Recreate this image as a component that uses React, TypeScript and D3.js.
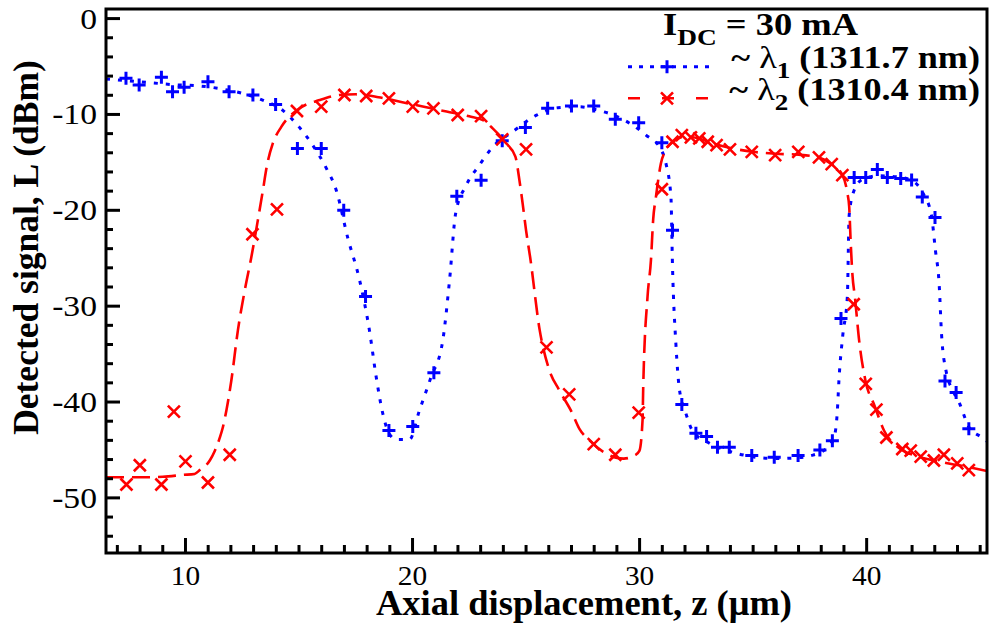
import React from "react";
import * as d3 from "d3";

// ---- data ----
const blueMarkZ = [7.38, 7.96, 8.94, 9.43, 9.94, 10.99, 11.92, 12.97, 13.97, 14.93, 15.98, 16.97, 17.93, 18.96, 20.01, 20.94, 21.95, 23.02, 23.95, 24.97, 25.95, 27.0, 27.98, 28.93, 29.96, 30.98, 31.45, 31.86, 32.48, 32.95, 33.43, 33.95, 34.94, 35.93, 36.98, 37.94, 38.49, 38.87, 39.45, 39.96, 40.47, 40.91, 41.5, 41.98, 42.45, 43.01, 43.45, 43.94, 44.5];
const blueMarkL = [-6.23, -6.93, -6.13, -7.63, -7.17, -6.58, -7.63, -7.97, -8.95, -13.55, -13.55, -20.0, -28.98, -42.98, -42.56, -36.95, -18.53, -16.86, -12.75, -11.35, -9.36, -9.12, -9.12, -10.51, -10.86, -12.96, -22.08, -40.26, -43.26, -43.6, -44.72, -44.72, -45.59, -45.77, -45.59, -45.0, -44.03, -31.3, -16.57, -16.57, -15.74, -16.57, -16.68, -16.85, -18.6, -20.75, -37.8, -39.0, -42.8];

const redMarkZ = [7.4, 7.99, 8.94, 9.49, 10.0, 10.99, 11.95, 12.95, 14.03, 14.91, 15.98, 17.0, 17.96, 18.96, 20.01, 20.92, 21.99, 23.02, 23.95, 25.0, 25.9, 26.9, 27.98, 28.93, 29.96, 30.98, 31.45, 31.86, 32.26, 32.63, 33.0, 33.39, 33.98, 34.94, 35.97, 36.99, 37.9, 38.46, 38.93, 39.43, 39.96, 40.43, 40.87, 41.57, 41.94, 42.38, 42.96, 43.4, 43.99, 44.5];
const redMarkL = [-48.6, -46.6, -48.6, -41.0, -46.2, -48.4, -45.5, -22.5, -19.9, -9.64, -9.19, -7.97, -8.08, -8.32, -9.19, -9.36, -10.06, -10.17, -12.6, -13.65, -34.3, -39.2, -44.4, -45.5, -41.1, -17.8, -12.85, -12.15, -12.4, -12.5, -12.85, -13.2, -13.65, -13.9, -14.24, -13.9, -14.48, -15.18, -16.33, -29.8, -38.1, -40.8, -43.7, -44.9, -45.07, -45.7, -46.1, -45.5, -46.4, -47.1];

const blueFitZ = [6.5, 7.5, 8.5, 9.5, 10.5, 11.5, 12.5, 13.5, 14.3, 15.0, 15.6, 16.2, 16.64, 17.15, 17.67, 18.1, 18.4, 18.69, 18.95, 19.28, 19.87, 20.3, 20.8, 21.33, 21.63, 21.9, 22.36, 22.94, 23.53, 24.41, 25.44, 26.4, 27.35, 28.08, 29.33, 30.28, 30.9, 31.16, 31.38, 31.45, 31.6, 31.75, 32.04, 32.33, 33.0, 33.9, 34.96, 36.0, 37.0, 37.54, 38.2, 38.56, 38.71, 38.78, 38.95, 39.15, 39.23, 39.45, 39.8, 40.5, 41.3, 42.0, 42.5, 42.85, 43.03, 43.19, 43.3, 43.5, 43.8, 44.1, 44.5, 45.08, 45.3];
const blueFitL = [-6.3, -6.5, -6.7, -6.9, -7.0, -7.3, -7.8, -8.6, -9.6, -11.3, -13.2, -15.6, -17.9, -22.9, -27.3, -32.5, -37.4, -41.2, -43.2, -43.9, -43.9, -40.9, -37.5, -33.6, -27.3, -20.3, -17.4, -15.3, -13.4, -11.8, -10.1, -9.3, -9.2, -9.5, -10.6, -12.15, -13.5, -15.1, -18.6, -25.9, -34, -38.6, -41.2, -43, -44.2, -45.1, -45.7, -45.9, -45.8, -45.6, -44.9, -43.7, -40.9, -37.7, -33, -29, -20.5, -17.9, -16.8, -16.4, -16.5, -16.9, -18.3, -20.5, -24.2, -27.6, -33, -36.8, -38.8, -40.2, -42.6, -43.7, -44.1];

const redFitZ = [6.5, 8, 9, 9.9, 10.4, 10.63, 11.07, 11.29, 11.5, 11.65, 11.8, 12.02, 12.31, 12.61, 12.9, 13.19, 13.39, 13.6, 13.85, 14.22, 15.03, 15.91, 16.79, 17.5, 18.5, 19.5, 20.5, 21.5, 22.5, 23.1, 23.53, 24.12, 24.53, 24.71, 24.85, 25.0, 25.18, 25.6, 26.0, 26.47, 27.0, 27.35, 27.79, 28.4, 28.96, 29.3, 29.77, 29.99, 30.13, 30.16, 30.35, 30.5, 30.6, 30.72, 30.94, 31.16, 31.5, 32.0, 32.6, 33.2, 34.0, 35.0, 36.0, 37.0, 37.9, 38.46, 38.93, 39.15, 39.23, 39.3, 39.37, 39.49, 39.67, 39.95, 40.35, 40.77, 41.43, 42.3, 43.4, 44.5, 45.3];
const redFitL = [-47.85, -47.85, -47.8, -47.6, -47.5, -47.1, -46.1, -45.1, -43.8, -42.6, -40.9, -37.75, -32.5, -28.35, -24.9, -21.0, -18.2, -15.2, -13.0, -11.3, -9.36, -8.5, -7.97, -7.9, -8.2, -8.7, -9.2, -9.7, -10.2, -10.6, -11.45, -13.0, -14.4, -16.9, -19.3, -22.1, -24.9, -32.5, -36.5, -38.8, -41.0, -42.8, -44.0, -45.2, -45.8, -45.9, -45.6, -45.1, -41.9, -38.4, -29.0, -25.2, -20.9, -18.6, -15.1, -13.7, -12.8, -12.3, -12.5, -13.0, -13.5, -13.9, -14.1, -14.2, -14.5, -15.2, -16.3, -18.2, -19.6, -23.5, -26.6, -29.2, -33.6, -37.8, -40.4, -43.0, -44.8, -45.7, -46.3, -46.8, -47.2];

const xMajorTicks = [10, 20, 30, 40];
const yMajorTicks = [0, -10, -20, -30, -40, -50];
const xLabel = "Axial displacement, z (\u03bcm)";
const yLabel = "Detected signal, L (dBm)";
const legendTitle = { main: "I", sub: "DC", rest: " = 30 mA" };
const series = [
  { name: "\u03bb", sub: "1", rest: " (1311.7 nm)" },
  { name: "\u03bb", sub: "2", rest: " (1310.4 nm)" },
];

const W = 989, H = 628;
const left = 106, right = 987, top = 9, bottom = 553;
const FONT = "'Liberation Serif', Tinos, 'Nimbus Roman', 'DejaVu Serif', serif";
const BLUE = "#0000ff", RED = "#ff0000";
const tStyle = { fontFamily: FONT };

export default function App() {
  const x = d3.scaleLinear().domain([6.5, 45.3]).range([left, right]);
  const y = d3.scaleLinear().domain([-55.75, 1.0]).range([bottom, top]);

  const line = d3
    .line<[number, number]>()
    .x((d) => x(d[0]))
    .y((d) => y(d[1]))
    .curve(d3.curveMonotoneX);

  const bluePts: [number, number][] = blueFitZ.map((z, i) => [z, blueFitL[i]]);
  const redPts: [number, number][] = redFitZ.map((z, i) => [z, redFitL[i]]);

  const xMinor = d3.range(7, 46, 1).filter((v) => v % 10 !== 0);
  const yMinor = d3.range(-54, 1, 2).filter((v) => v % 10 !== 0);

  const plus = (cx: number, cy: number, k: string) => (
    <path key={k} d={`M${cx - 6.5},${cy}H${cx + 6.5}M${cx},${cy - 6.5}V${cy + 6.5}`} stroke={BLUE} strokeWidth={3} fill="none" />
  );
  const cross = (cx: number, cy: number, k: string) => (
    <path key={k} d={`M${cx - 6},${cy - 6}L${cx + 6},${cy + 6}M${cx - 6},${cy + 6}L${cx + 6},${cy - 6}`} stroke={RED} strokeWidth={2.6} fill="none" />
  );

  return (
    <svg width={W} height={H} style={{ position: "absolute", left: 0, top: 0, background: "#fff" }}>
      <defs>
        <clipPath id="plotclip">
          <rect x={left} y={top} width={right - left} height={bottom - top} />
        </clipPath>
      </defs>
      <g clipPath="url(#plotclip)">
        <path d={line(bluePts) || ""} fill="none" stroke={BLUE} strokeWidth={3} strokeDasharray="4,8" />
        {blueMarkZ.map((z, i) => plus(x(z), y(blueMarkL[i]), "b" + i))}
        <path d={line(redPts) || ""} fill="none" stroke={RED} strokeWidth={2.6} strokeDasharray="18,8" />
        {redMarkZ.map((z, i) => cross(x(z), y(redMarkL[i]), "r" + i))}
      </g>

      {/* frame */}
      <rect x={left} y={top} width={right - left} height={bottom - top} fill="none" stroke="#000" strokeWidth={3} />

      {/* x ticks */}
      {xMajorTicks.map((t) => (
        <g key={"xt" + t}>
          <line x1={x(t)} x2={x(t)} y1={bottom} y2={bottom - 15} stroke="#000" strokeWidth={3} />
          <text transform={`translate(${x(t)},585) scale(1.05,1)`} textAnchor="middle" fontSize={28} style={tStyle}>{t}</text>
        </g>
      ))}
      {xMinor.map((t) => (
        <line key={"xm" + t} x1={x(t)} x2={x(t)} y1={bottom} y2={bottom - 8} stroke="#000" strokeWidth={3} />
      ))}
      {/* y ticks */}
      {yMajorTicks.map((t) => (
        <g key={"yt" + t}>
          <line x1={left} x2={left + 14} y1={y(t)} y2={y(t)} stroke="#000" strokeWidth={3} />
          <text transform={`translate(97,${y(t) + 10}) scale(1.18,1)`} textAnchor="end" fontSize={28.5} style={tStyle}>{t}</text>
        </g>
      ))}
      {yMinor.map((t) => (
        <line key={"ym" + t} x1={left} x2={left + 7} y1={y(t)} y2={y(t)} stroke="#000" strokeWidth={3} />
      ))}

      {/* axis labels */}
      <text x={584} y={615} textAnchor="middle" fontSize={36.5} fontWeight="bold" style={tStyle}>{xLabel}</text>
      <text transform="translate(38,247.5) rotate(-90)" textAnchor="middle" fontSize={35.5} fontWeight="bold" style={tStyle}>{yLabel}</text>

      {/* legend */}
      <text transform="translate(663,35) scale(1.14,1)" fontSize={32} fontWeight="bold" style={tStyle}>
        {legendTitle.main}
        <tspan dy={10} fontSize={24}>{legendTitle.sub}</tspan>
        <tspan dy={-10}>{legendTitle.rest}</tspan>
      </text>
      {series.map((s, i) => {
        const ly = 66.7 + i * 31.6;
        const color = i === 0 ? BLUE : RED;
        return (
          <g key={"lg" + i}>
            <line x1={628} x2={713} y1={ly} y2={ly} stroke={color} strokeWidth={i === 0 ? 3 : 2.6} strokeDasharray={i === 0 ? "4,7" : "12,22"} />
            {i === 0 ? plus(667, ly, "lp") : cross(667, ly, "lx")}
            <text transform={`translate(980,${ly + 1.5}) scale(1.13,1)`} textAnchor="end" fontSize={32} fontWeight="bold" style={tStyle}>
              {"~ "}
              <tspan fontWeight="normal">{s.name}</tspan>
              <tspan dy={10} fontSize={24}>{s.sub}</tspan>
              <tspan dy={-10}>{s.rest}</tspan>
            </text>
          </g>
        );
      })}
    </svg>
  );
}
